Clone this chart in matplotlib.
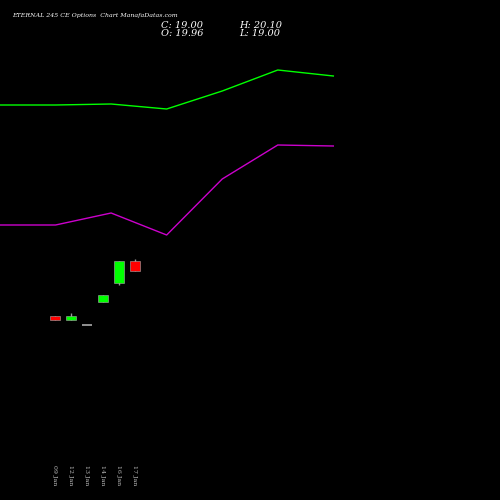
import matplotlib
matplotlib.use("Agg")
import matplotlib.pyplot as plt

dates = ["09 Jan", "12 Jan", "13 Jan", "14 Jan", "16 Jan", "17 Jan"]
opens = [14.7, 14.3, 13.8, 16.0, 17.85, 19.96]
highs = [14.7, 15.0, 13.8, 16.7, 19.96, 20.10]
lows = [14.3, 14.3, 13.8, 16.0, 17.66, 19.00]
closes = [14.3, 14.7, 13.8, 16.7, 19.96, 19.00]
green_line = [395, 395, 396, 391, 409, 430, 424]
purple_line = [275, 275, 287, 265, 321, 355, 354]

fig = plt.figure(figsize=(5, 5), dpi=100, facecolor="black")
ax = fig.add_axes([0, 0, 1, 1], facecolor="black")
ax.set_xlim(-55 / 16, 445 / 16)
ax.set_ylim(-2.98, 45.0)
ax.axis("off")
for i, (o, h, l, c) in enumerate(zip(opens, highs, lows, closes)):
    col = "#00ff00" if c > o else ("#ff0000" if c < o else "#aaaaaa")
    ax.vlines(i, l, h, color="#999999", lw=1, zorder=1)
    if c == o:
        ax.hlines(c, i - 0.3, i + 0.3, color="#aaaaaa", lw=1.2, zorder=2)
    else:
        ax.bar(i, abs(c - o), bottom=min(o, c), width=0.6, color=col,
               edgecolor="#aaaaaa", lw=0.4, zorder=2)
for i, d in enumerate(dates):
    ax.text(i, 0.4, d, rotation=-90, color="#bbbbbb", fontsize=4.5,
            family="DejaVu Serif", ha="center", va="top")

ax2 = fig.add_axes([0, 0, 1, 1], facecolor="none")
ax2.set_xlim(0, 9.0)
ax2.set_ylim(0, 500)
ax2.axis("off")
x = list(range(len(green_line)))
ax2.plot(x, green_line, color="#00ff00", lw=1)
ax2.plot(x, purple_line, color="#cc00cc", lw=1)

fig.text(0.024, 0.968, "ETERNAL 245 CE Options  Chart ManafaDatas.com", color="white",
         fontsize=4.5, family="DejaVu Serif", style="italic", va="center")
fig.text(0.322, 0.950, "C: 19.00", color="white", fontsize=7, family="DejaVu Serif", style="italic", va="center")
fig.text(0.322, 0.933, "O: 19.96", color="white", fontsize=7, family="DejaVu Serif", style="italic", va="center")
fig.text(0.478, 0.950, "H: 20.10", color="white", fontsize=7, family="DejaVu Serif", style="italic", va="center")
fig.text(0.478, 0.933, "L: 19.00", color="white", fontsize=7, family="DejaVu Serif", style="italic", va="center")
fig.savefig("out.png", dpi=100, facecolor="black")
